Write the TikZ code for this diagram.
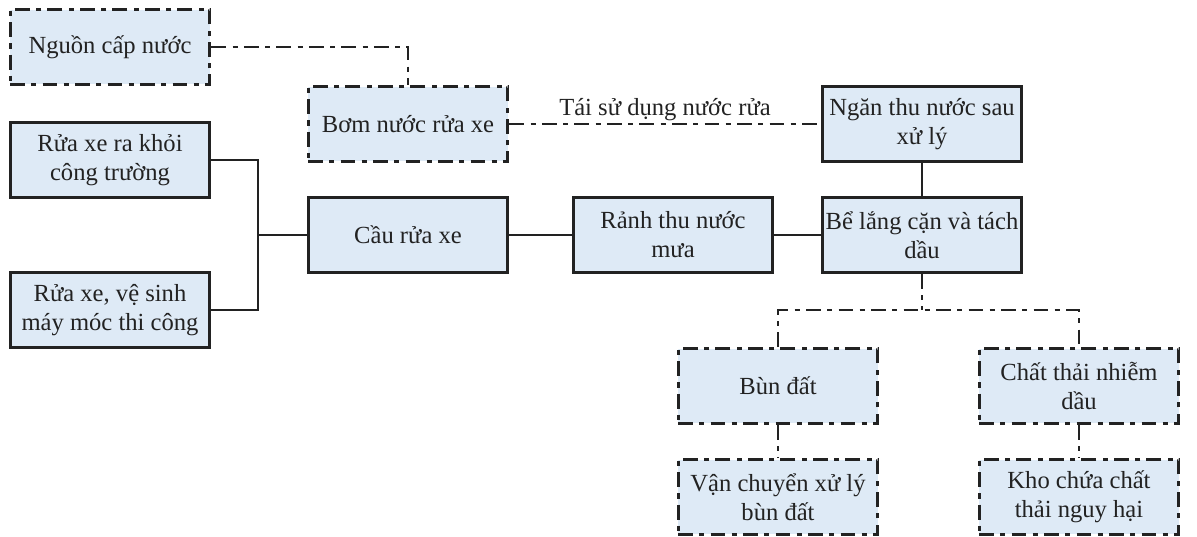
\documentclass[tikz,border=0pt]{standalone}
\usepackage{fontspec}
\setmainfont{Liberation Serif}
\newfontfamily\vnserif{Liberation Serif}
\usetikzlibrary{positioning}
\definecolor{cBox}{RGB}{222,234,246}
\definecolor{cEdge}{RGB}{34,34,34}

\begin{document}
\begin{tikzpicture}[
  x=0.02cm,y=-0.02cm, font=\vnserif\fontsize{14}{16.5}\selectfont, color=cEdge,
  proc/.style ={draw=cEdge, fill=cBox, line width=1.7pt, align=center,
                minimum width=4cm, minimum height=1.5cm, inner sep=1pt},
  waste/.style={proc, dash pattern=on 8.5pt off 3.5pt on 3pt off 3.5pt},
  link/.style ={draw=cEdge, line width=1.4pt},
  dlink/.style={link, dash pattern=on 8.5pt off 3.5pt on 3pt off 3.5pt},
]
\useasboundingbox (0,0) rectangle (1197,537);

% ----- wash water supply ------------------------------------------------
\node[waste] (src)  at (110,47)  {Nguồn cấp nước};
\node[waste] (pump) at (408,124) {Bơm nước rửa xe};

% ----- washing and collection ------------------------------------------
\node[proc] (washA)  at (110,160) {Rửa xe ra khỏi\\công trường};
\node[proc] (washB)  at (110,310) {Rửa xe, vệ sinh\\máy móc thi công};
\node[proc] (bridge) at (408,235) {Cầu rửa xe};
\node[proc] (ditch)  at (673,235) {Rảnh thu nước\\mưa};
\node[proc] (tank)   at (922,235) {Bể lắng cặn và tách\\dầu};
\node[proc] (reuse)  at (922,124) {Ngăn thu nước sau\\xử lý};

% ----- residues ---------------------------------------------------------
\node[waste] (mud)   at (778,386)  {Bùn đất};
\node[waste] (oil)   at (1079,386) {Chất thải nhiễm\\dầu};
\node[waste] (haul)  at (778,497)  {Vận chuyển xử lý\\bùn đất};
\node[waste] (store) at (1079,497) {Kho chứa chất\\thải nguy hại};

% ----- connectors -------------------------------------------------------
\coordinate (jn)    at (258,235);
\coordinate (split) at (922,310);

\draw[dlink] (src.east) -| (pump.north);
\draw[dlink] (pump) -- node[above=-2pt] {Tái sử dụng nước rửa} (reuse);

\draw[link] (washA.east) -| (jn) |- (washB.east);
\draw[link] (jn) -- (bridge);
\draw[link] (bridge) -- (ditch);
\draw[link] (ditch) -- (tank);
\draw[link] (reuse) -- (tank);

\draw[dlink] (tank.south) -- (split);
\draw[dlink] (mud.north) |- (split) -| (oil.north);
\draw[dlink] (mud) -- (haul);
\draw[dlink] (oil) -- (store);

\end{tikzpicture}
\end{document}
